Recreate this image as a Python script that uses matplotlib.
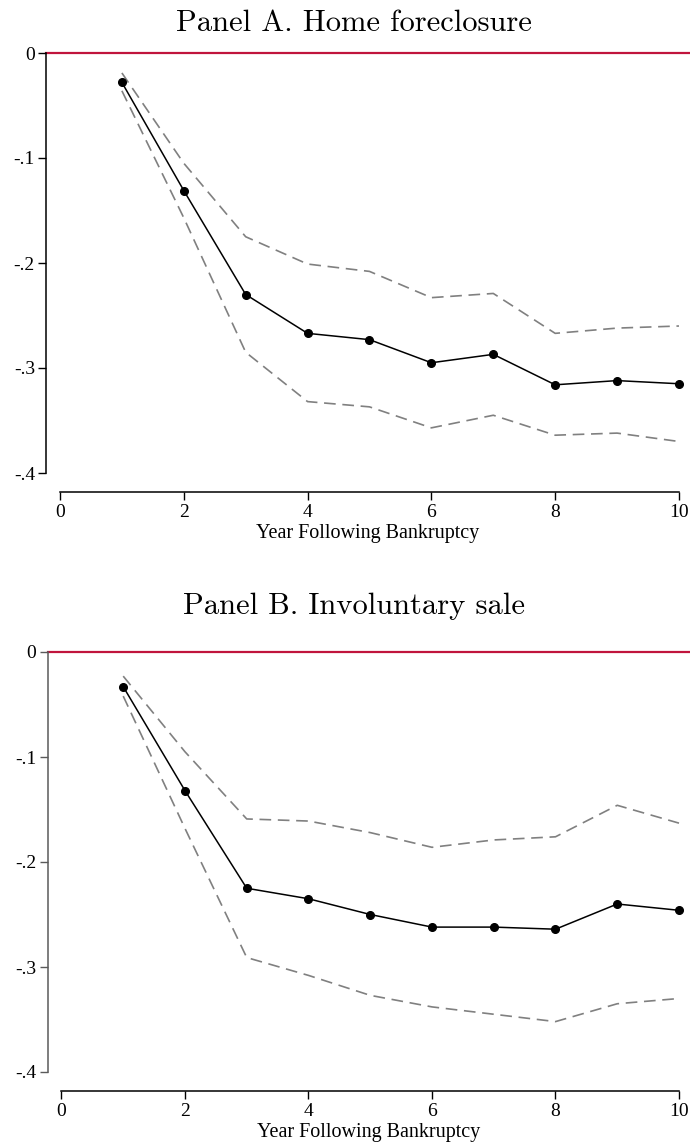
import matplotlib
matplotlib.use("Agg")
import matplotlib.pyplot as plt
from matplotlib.ticker import FixedLocator, FixedFormatter

# event-time estimates, years after filing
years = [1, 2, 3, 4, 5, 6, 7, 8, 9, 10]

foreclosure_est = [-0.028, -0.131, -0.230, -0.267, -0.273, -0.295, -0.287, -0.316, -0.312, -0.315]
foreclosure_hi = [-0.019, -0.105, -0.175, -0.201, -0.208, -0.233, -0.229, -0.267, -0.262, -0.260]
foreclosure_lo = [-0.036, -0.157, -0.285, -0.332, -0.337, -0.357, -0.345, -0.364, -0.362, -0.370]

sale_est = [-0.033, -0.132, -0.225, -0.235, -0.250, -0.262, -0.262, -0.264, -0.240, -0.246]
sale_hi = [-0.023, -0.095, -0.159, -0.161, -0.172, -0.186, -0.179, -0.176, -0.146, -0.163]
sale_lo = [-0.042, -0.168, -0.291, -0.308, -0.327, -0.338, -0.345, -0.352, -0.335, -0.330]

y_ticks = [-0.4, -0.3, -0.2, -0.1, 0.0]
y_labels = ["-.4", "-.3", "-.2", "-.1", "0"]
x_ticks = [0, 2, 4, 6, 8, 10]

W, H = 690, 1147
TICK_FONT = "Liberation Serif"
RED = "#c0143c"
GREY = "#808080"


def px_axes(left, right, top, bottom):
    return [left / W, 1 - bottom / H, (right - left) / W, (bottom - top) / H]


def draw_panel(ax, est, lo, hi, yspine_color):
    ax.axhline(0, color=RED, lw=1.6, clip_on=False, zorder=1)
    ax.plot(years, hi, color=GREY, lw=1.2, dashes=(7, 4), zorder=2)
    ax.plot(years, lo, color=GREY, lw=1.2, dashes=(7, 4), zorder=2)
    ax.plot(years, est, color="black", lw=1.1, marker="o", ms=5.5,
            clip_on=False, zorder=3)

    ax.set_xlim(-0.226, 10.178)
    ax.set_ylim(-0.4, 0)

    for side in ("top", "right"):
        ax.spines[side].set_visible(False)
    ax.spines["left"].set_color(yspine_color)
    ax.spines["left"].set_linewidth(1.1)
    ax.spines["bottom"].set_linewidth(1.1)
    ax.spines["bottom"].set_position(("outward", 14))
    ax.spines["bottom"].set_bounds(0, 10)

    ax.yaxis.set_major_locator(FixedLocator(y_ticks))
    ax.yaxis.set_major_formatter(FixedFormatter(y_labels))
    ax.xaxis.set_major_locator(FixedLocator(x_ticks))
    ax.tick_params(axis="y", direction="out", length=6, width=1.0,
                   color=yspine_color, pad=2, labelsize=14)
    ax.tick_params(axis="x", direction="out", length=6, width=1.0,
                   pad=2, labelsize=14)
    for lab in ax.get_xticklabels() + ax.get_yticklabels():
        lab.set_fontfamily(TICK_FONT)
    ax.set_xlabel("Year Following Bankruptcy", fontsize=14.5,
                  fontfamily=TICK_FONT, labelpad=2.5)
    ax.set_facecolor("none")


fig = plt.figure(figsize=(W / 100, H / 100), dpi=100)

ax_a = fig.add_axes(px_axes(46, 690, 53, 473))
draw_panel(ax_a, foreclosure_est, foreclosure_lo, foreclosure_hi, "black")
fig.text(354 / W, 1 - 31 / H, "Panel A. Home foreclosure", fontsize=22,
         fontfamily="cmr10", ha="center", va="baseline")

ax_b = fig.add_axes(px_axes(47.5, 690, 652, 1072))
draw_panel(ax_b, sale_est, sale_lo, sale_hi, "#5a5a5a")
fig.text(354 / W, 1 - 614 / H, "Panel B. Involuntary sale", fontsize=22,
         fontfamily="cmr10", ha="center", va="baseline")

fig.savefig("out.png", dpi=100)
plt.close(fig)
